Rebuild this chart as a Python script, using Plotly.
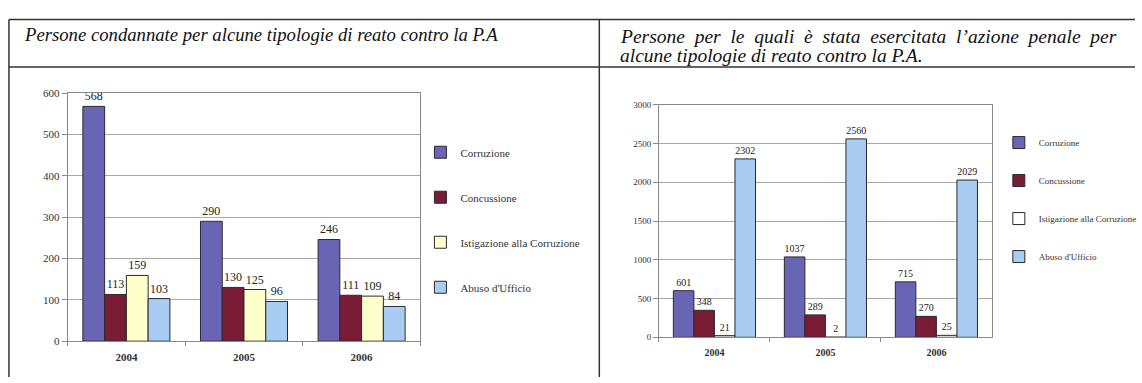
import plotly.graph_objects as go

# --- data -------------------------------------------------------------
years = ["2004", "2005", "2006"]
series_names = ["Corruzione", "Concussione", "Istigazione alla Corruzione", "Abuso d'Ufficio"]

# Persone condannate
cond_corruzione = [568, 290, 246]
cond_concussione = [113, 130, 111]
cond_istigazione = [159, 125, 109]
cond_abuso = [103, 96, 84]

# Persone per le quali è stata esercitata l'azione penale
az_corruzione = [601, 1037, 715]
az_concussione = [348, 289, 270]
az_istigazione = [21, 2, 25]
az_abuso = [2302, 2560, 2029]

title_left = "Persone condannate per alcune tipologie di reato contro la P.A"
title_right_1 = "Persone per le quali è stata esercitata l’azione penale per"
title_right_2 = "alcune tipologie di reato contro la P.A."

# --- style ------------------------------------------------------------
W, H = 1142, 383
SERIF = "Liberation Serif, Times New Roman, serif"
colors_left = ["#6a64b4", "#7a1c35", "#ffffcc", "#a8ccf2"]
colors_right = ["#6a64b4", "#7a1c35", "#ffffff", "#a8ccf2"]


def px_x(x):
    return x / W


def px_y(y):
    return 1 - y / H


fig = go.Figure()

left_data = [cond_corruzione, cond_concussione, cond_istigazione, cond_abuso]
right_data = [az_corruzione, az_concussione, az_istigazione, az_abuso]

for i, (name, vals) in enumerate(zip(series_names, left_data)):
    fig.add_trace(go.Bar(
        x=years, y=vals, name=name,
        marker=dict(color=colors_left[i], line=dict(color="#2a2a2a", width=1)),
        text=[str(v) for v in vals], textposition="outside", constraintext="none",
        textfont=dict(family=SERIF, size=12, color="#222"),
        cliponaxis=False,
        xaxis="x", yaxis="y", legend="legend", legendgroup="l%d" % i,
    ))

for i, (name, vals) in enumerate(zip(series_names, right_data)):
    fig.add_trace(go.Bar(
        x=years, y=vals, name=name,
        marker=dict(color=colors_right[i], line=dict(color="#2a2a2a", width=1)),
        text=[str(v) for v in vals], textposition="outside", constraintext="none",
        textfont=dict(family=SERIF, size=10, color="#222"),
        cliponaxis=False,
        xaxis="x2", yaxis="y2", legend="legend2", legendgroup="r%d" % i,
    ))

axis_common = dict(showline=True, linecolor="#8a8a8a", linewidth=1, mirror=True)

fig.update_layout(
    width=W, height=H,
    margin=dict(l=0, r=0, t=0, b=0),
    paper_bgcolor="white", plot_bgcolor="white",
    barmode="group", bargap=0.26, bargroupgap=0,
    showlegend=True,
    font=dict(family=SERIF),
    xaxis=dict(domain=[px_x(68), px_x(423)], anchor="y", type="category",
               ticks="outside", tickson="boundaries", ticklen=4, tickcolor="#8a8a8a",
               tickfont=dict(family=SERIF, size=11, color="#333", weight="bold"),
               ticklabelstandoff=6, **axis_common),
    yaxis=dict(domain=[px_y(346), px_y(90)], anchor="x", range=[0, 600], dtick=100,
               showgrid=True, gridcolor="#a8a8a8", gridwidth=1,
               ticks="outside", ticklen=5, tickcolor="#8a8a8a",
               tickfont=dict(family=SERIF, size=11, color="#333"), **axis_common),
    xaxis2=dict(domain=[px_x(663), px_x(998)], anchor="y2", type="category",
                ticks="outside", tickson="boundaries", ticklen=4, tickcolor="#8a8a8a",
                tickfont=dict(family=SERIF, size=10, color="#333", weight="bold"),
                ticklabelstandoff=6, **axis_common),
    yaxis2=dict(domain=[px_y(342), px_y(102)], anchor="x2", range=[0, 3000], dtick=500,
                showgrid=True, gridcolor="#a8a8a8", gridwidth=1,
                ticks="outside", ticklen=5, tickcolor="#8a8a8a",
                tickfont=dict(family=SERIF, size=9, color="#333"), **axis_common),
    legend=dict(x=px_x(423), y=px_y(136), xanchor="left", yanchor="top",
                font=dict(family=SERIF, size=11, color="#333"),
                tracegroupgap=26, bgcolor="rgba(0,0,0,0)", itemwidth=30),
    legend2=dict(x=px_x(1005), y=px_y(126), xanchor="left", yanchor="top",
                 font=dict(family=SERIF, size=9, color="#333"),
                 tracegroupgap=19, bgcolor="rgba(0,0,0,0)", itemwidth=30),
)

# table frame around the two panels
line_style = dict(color="#333", width=1.5)
table_lines = [
    (9, 14, W, 14),
    (9, 63, W, 63),
    (9, 14, 9, H),
    (603, 14, 603, H),
]
for x0, y0, x1, y1 in table_lines:
    fig.add_shape(type="line", xref="paper", yref="paper",
                  x0=px_x(x0), y0=px_y(y0), x1=px_x(x1), y1=px_y(y1), line=line_style)

# panel headings (first line of the right heading is justified with wider word gaps)
fig.add_annotation(text=title_left, xref="paper", yref="paper",
                   x=px_x(22), y=px_y(29), xanchor="left", yanchor="middle",
                   showarrow=False,
                   font=dict(family=SERIF, size=18.7, color="#111", style="italic"))
right_font = dict(family=SERIF, size=19.5, color="#111", style="italic")
fig.add_annotation(text=" \u00a0".join(title_right_1.split(" ")), xref="paper", yref="paper",
                   x=px_x(622), y=px_y(32), xanchor="left", yanchor="middle",
                   showarrow=False, font=right_font)
fig.add_annotation(text=title_right_2, xref="paper", yref="paper",
                   x=px_x(622), y=px_y(51), xanchor="left", yanchor="middle",
                   showarrow=False, font=right_font)

fig.write_html("out.html")
